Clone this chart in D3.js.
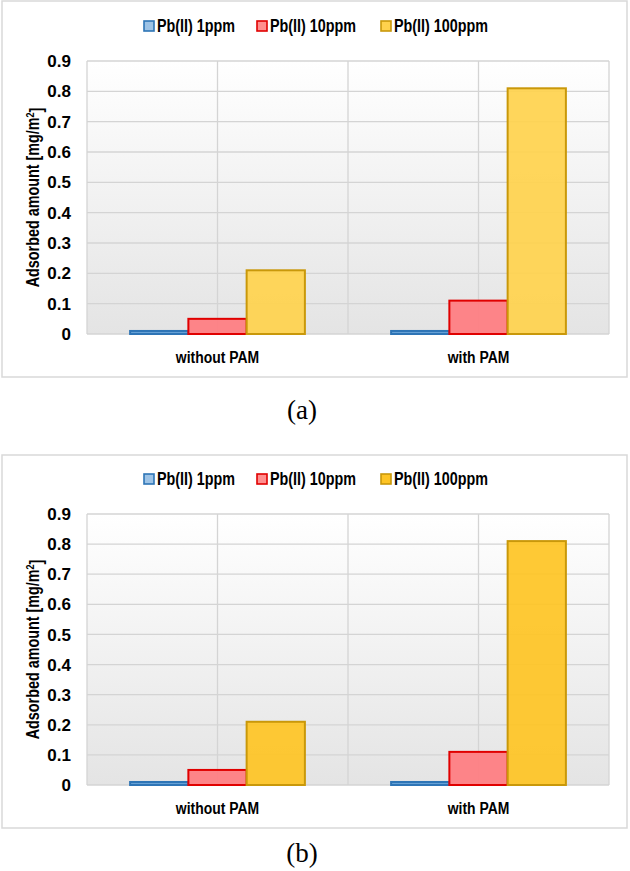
<!DOCTYPE html>
<html>
<head>
<meta charset="utf-8">
<script src="https://cdn.jsdelivr.net/npm/d3@7"></script>
<style>
  body { margin: 0; background: #fff; }
  svg { display: block; }
</style>
</head>
<body>
<div id="chart"></div>
<script>
// data (both panels show the same values)
var categories = ["without PAM", "with PAM"];
var seriesNames = ["Pb(II) 1ppm", "Pb(II) 10ppm", "Pb(II) 100ppm"];
var pb1ppm = [0.01, 0.01];
var pb10ppm = [0.05, 0.11];
var pb100ppm = [0.21, 0.81];
var yTicks = [0, 0.1, 0.2, 0.3, 0.4, 0.5, 0.6, 0.7, 0.8, 0.9];
var captions = ["(a)", "(b)"];

var sans = "'Liberation Sans',Arial,sans-serif";
var squeeze = 0.82; // the original uses a condensed bold face

var svg = d3.select("#chart")
    .append("svg")
    .attr("width", 630)
    .attr("height", 871)
    .attr("xmlns", "http://www.w3.org/2000/svg");

var defs = svg.append("defs");
var grad = defs.append("linearGradient")
    .attr("id", "plotbg")
    .attr("x1", 0).attr("y1", 0).attr("x2", 0).attr("y2", 1);
grad.append("stop").attr("offset", "0%").attr("stop-color", "#ffffff");
grad.append("stop").attr("offset", "100%").attr("stop-color", "#e4e4e4");

// condensed bold text: horizontally squeezed Liberation Sans
function narrowText(parent, x, y, txt, size, anchor, rotate) {
    var t = parent.append("g")
        .attr("transform", "translate(" + x + "," + y + ")" + (rotate ? " rotate(-90)" : "") + " scale(" + squeeze + ",1)")
        .append("text")
        .attr("text-anchor", anchor)
        .style("font-family", sans)
        .style("font-weight", "bold")
        .style("font-size", size + "px");
    if (txt) t.text(txt);
    return t;
}

function drawPanel(box, yellow, caption) {
    var g = svg.append("g");
    var plotTop = box.plotTop, plotBottom = box.plotBottom, left = 87, right = 609;

    // outer frame
    g.append("rect")
        .attr("x", 2).attr("y", box.top)
        .attr("width", 625).attr("height", box.bottom - box.top)
        .attr("fill", "#fff")
        .attr("stroke", "#d9d9d9")
        .attr("stroke-width", 1.5);

    var series = [
        {name: seriesNames[0], values: pb1ppm, fill: "#5b9bd5", stroke: "#2e75b6", key: "#9dc3e6"},
        {name: seriesNames[1], values: pb10ppm, fill: "#ff7c80", stroke: "#e00000", key: "#ff8f8f"},
        {name: seriesNames[2], values: pb100ppm, fill: yellow, stroke: "#c9980a", key: yellow}
    ];

    var x0 = d3.scaleBand().domain(categories).range([left, right]);
    var x1 = d3.scaleBand().domain(seriesNames).range([0, x0.bandwidth()]).paddingOuter(0.74);
    var y = d3.scaleLinear().domain([0, 0.9]).range([plotBottom, plotTop]);

    // plot area
    g.append("rect")
        .attr("x", left).attr("y", plotTop)
        .attr("width", right - left).attr("height", plotBottom - plotTop)
        .attr("fill", "url(#plotbg)");

    // horizontal gridlines
    g.append("g").selectAll("line")
        .data(yTicks)
        .enter().append("line")
        .attr("x1", left).attr("x2", right)
        .attr("y1", function(d) { return y(d); })
        .attr("y2", function(d) { return y(d); })
        .attr("stroke", "#d4d4d4").attr("stroke-width", 1.3);

    // vertical gridlines at category edges and centres
    var vx = [];
    categories.forEach(function(c) { vx.push(x0(c), x0(c) + x0.bandwidth() / 2); });
    vx.push(right);
    g.append("g").selectAll("line")
        .data(vx)
        .enter().append("line")
        .attr("x1", function(d) { return d; }).attr("x2", function(d) { return d; })
        .attr("y1", plotTop).attr("y2", plotBottom)
        .attr("stroke", "#d4d4d4").attr("stroke-width", 1.3);

    // bars
    series.forEach(function(s) {
        g.append("g").selectAll("rect")
            .data(categories)
            .enter().append("rect")
            .attr("x", function(c) { return x0(c) + x1(s.name); })
            .attr("y", function(c, i) { return y(s.values[i]); })
            .attr("width", x1.bandwidth())
            .attr("height", function(c, i) { return y(0) - y(s.values[i]); })
            .attr("fill", s.fill)
            .attr("fill-opacity", 0.92)
            .attr("stroke", s.stroke)
            .attr("stroke-width", 2);
    });

    // y tick labels
    g.append("g").selectAll("text")
        .data(yTicks)
        .enter().append("text")
        .attr("x", 71)
        .attr("y", function(d) { return y(d); })
        .attr("dy", "0.36em")
        .attr("text-anchor", "end")
        .style("font-family", sans)
        .style("font-weight", "bold")
        .style("font-size", "17px")
        .text(function(d) { return d === 0 ? "0" : d3.format(".1f")(d); });

    // category labels
    categories.forEach(function(c) {
        narrowText(g, x0(c) + x0.bandwidth() / 2, plotBottom + 29, c, 17, "middle", false);
    });

    // y axis title
    var yt = narrowText(g, 39, (plotTop + plotBottom) / 2, null, 17.5, "middle", true);
    yt.append("tspan").text("Adsorbed amount [mg/m");
    yt.append("tspan").attr("dy", "-0.45em").style("font-size", "11px").text("2");
    yt.append("tspan").attr("dy", "0.45em").text("]");

    // legend
    var legendX = [143, 256, 380];
    series.forEach(function(s, i) {
        g.append("rect")
            .attr("x", legendX[i] + 1).attr("y", box.legendY - 5)
            .attr("width", 10).attr("height", 10)
            .attr("fill", s.key)
            .attr("stroke", s.stroke)
            .attr("stroke-width", 1.6);
        narrowText(g, legendX[i] + 14, box.legendY + 6, s.name, 17.5, "start", false);
    });

    // caption below the frame
    svg.append("text")
        .attr("x", 302)
        .attr("y", box.captionY)
        .attr("text-anchor", "middle")
        .style("font-family", "'Liberation Serif','Times New Roman',serif")
        .style("font-size", "27px")
        .text(caption);
}

drawPanel({top: 1, bottom: 377, legendY: 26, plotTop: 61, plotBottom: 334, captionY: 419}, "#ffd24d", captions[0]);
drawPanel({top: 455, bottom: 828, legendY: 479, plotTop: 514, plotBottom: 785, captionY: 862}, "#fec424", captions[1]);
</script>
</body>
</html>
